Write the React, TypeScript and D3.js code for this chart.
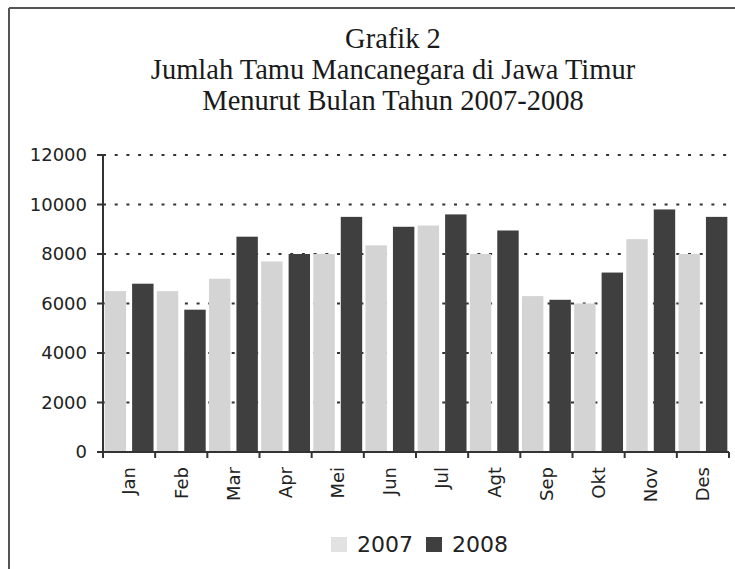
import React from "react";
import * as d3 from "d3";

const months = ["Jan", "Feb", "Mar", "Apr", "Mei", "Jun", "Jul", "Agt", "Sep", "Okt", "Nov", "Des"];
const series = ["2007", "2008"];
const values2007 = [6500, 6500, 7000, 7700, 8000, 8350, 9150, 8000, 6300, 6000, 8600, 8000];
const values2008 = [6800, 5750, 8700, 8000, 9500, 9100, 9600, 8950, 6150, 7250, 9800, 9500];
const yTicks = [0, 2000, 4000, 6000, 8000, 10000, 12000];
const titleLines = ["Grafik 2", "Jumlah Tamu Mancanegara di Jawa Timur", "Menurut Bulan Tahun 2007-2008"];

const W = 735;
const H = 569;
const plot = { left: 103, right: 729, top: 155, bottom: 452 };
const colors: Record<string, string> = { "2007": "#d4d4d4", "2008": "#3f3f3f" };
const sans = "'DejaVu Sans', sans-serif";

export default function App() {
  const x = d3.scaleBand<string>().domain(months).range([plot.left, plot.right]).padding(0);
  const xs = d3
    .scaleBand<string>()
    .domain(series)
    .range([0, x.bandwidth()])
    .paddingInner(0.22)
    .paddingOuter(0.06);
  const y = d3.scaleLinear().domain([0, 12000]).range([plot.bottom, plot.top]);
  const data: Record<string, number[]> = { "2007": values2007, "2008": values2008 };
  const boundaries = d3.range(months.length + 1).map((i) => plot.left + i * x.step());

  return (
    <svg
      width={W}
      height={H}
      style={{ position: "absolute", left: 0, top: 0, background: "#fff" }}
    >
      <rect x={0} y={0} width={W} height={H} fill="#fff" />
      {/* frame */}
      <line x1={9} y1={8} x2={W} y2={8} stroke="#555" strokeWidth={2} />
      <line x1={9} y1={8} x2={9} y2={H} stroke="#555" strokeWidth={2} />

      {/* title */}
      {titleLines.map((t, i) => (
        <text
          key={t}
          x={393}
          y={48 + i * 31}
          textAnchor="middle"
          fontFamily="'Liberation Serif', 'Times New Roman', serif"
          fontSize={28.5}
          fill="#1a1a1a"
        >
          {t}
        </text>
      ))}

      {/* gridlines */}
      {yTicks
        .filter((t) => t > 0)
        .map((t) => (
          <line
            key={"g" + t}
            x1={plot.left}
            x2={plot.right}
            y1={y(t)}
            y2={y(t)}
            stroke="#333"
            strokeWidth={2.2}
            strokeDasharray="3,8.7"
          />
        ))}

      {/* bars */}
      {series.map((s) =>
        months.map((m, i) => (
          <rect
            key={s + m}
            x={(x(m) as number) + (xs(s) as number)}
            y={y(data[s][i])}
            width={xs.bandwidth()}
            height={y(0) - y(data[s][i])}
            fill={colors[s]}
          />
        ))
      )}

      {/* y axis */}
      <line x1={plot.left} x2={plot.left} y1={plot.top} y2={plot.bottom} stroke="#333" strokeWidth={2} />
      {yTicks.map((t) => (
        <g key={"y" + t}>
          <line x1={plot.left - 6} x2={plot.left} y1={y(t)} y2={y(t)} stroke="#333" strokeWidth={2} />
          <text
            x={87}
            y={y(t)}
            dy="0.36em"
            textAnchor="end"
            fontFamily={sans}
            fontSize={18}
            fill="#222"
          >
            {t}
          </text>
        </g>
      ))}

      {/* x axis */}
      <line x1={plot.left} x2={plot.right} y1={plot.bottom} y2={plot.bottom} stroke="#333" strokeWidth={2} />
      {boundaries.map((bx, i) => (
        <line key={"xt" + i} x1={bx} x2={bx} y1={plot.bottom} y2={plot.bottom + 6} stroke="#333" strokeWidth={2} />
      ))}
      {months.map((m) => {
        const cx = (x(m) as number) + x.bandwidth() / 2;
        return (
          <text
            key={"xl" + m}
            transform={`translate(${cx},${467}) rotate(-90)`}
            textAnchor="end"
            dy="0.35em"
            fontFamily={sans}
            fontSize={18}
            fill="#222"
          >
            {m}
          </text>
        );
      })}

      {/* legend */}
      {series.map((s, i) => {
        const lx = [331, 426][i];
        return (
          <g key={"lg" + s}>
            <rect x={lx} y={537} width={16} height={15} fill={s === "2007" ? "#e2e2e2" : colors[s]} />
            <text x={lx + 26} y={552} fontFamily={sans} fontSize={22} fill="#222">
              {s}
            </text>
          </g>
        );
      })}
    </svg>
  );
}
